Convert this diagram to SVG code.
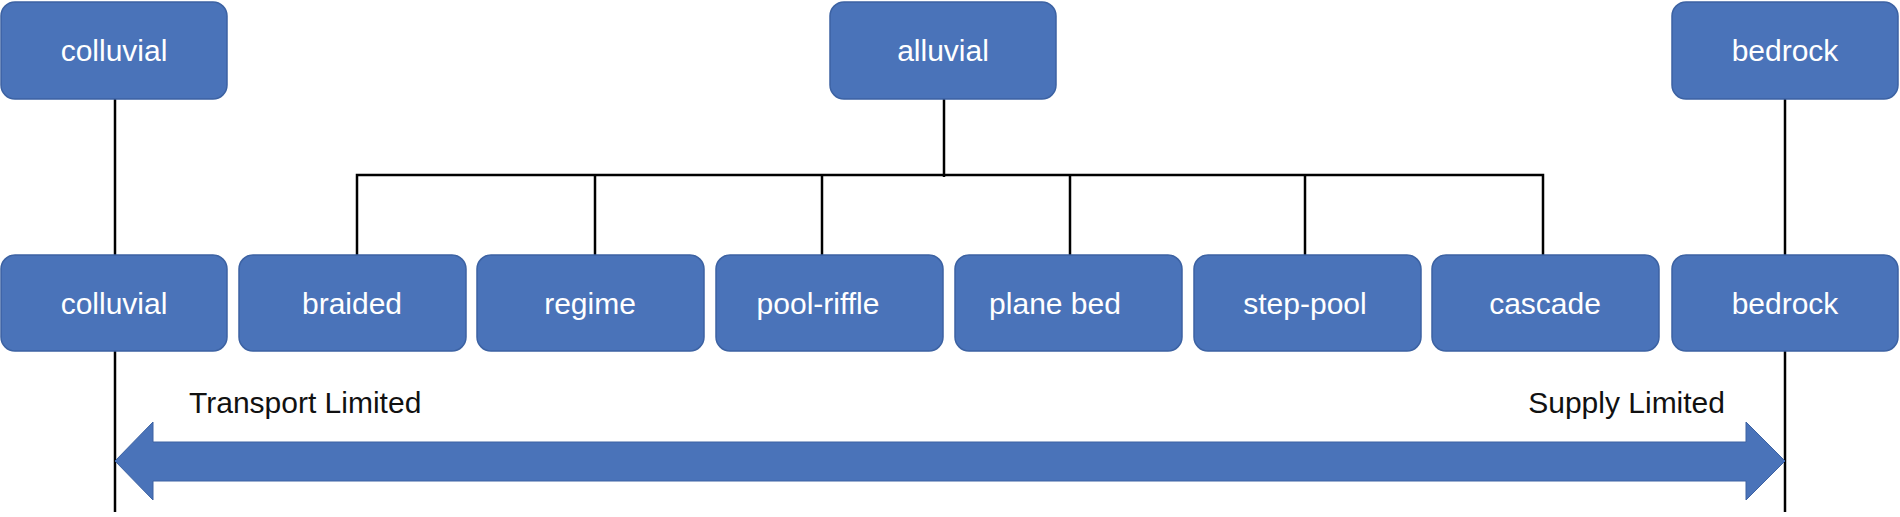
<svg xmlns="http://www.w3.org/2000/svg" width="1900" height="517" viewBox="0 0 1900 517">
<style>
.box{fill:#4a73b9;stroke:#3c62a3;stroke-width:1.5}
.bt{font-family:"Liberation Sans",Arial,sans-serif;font-size:30px;fill:#fff;text-anchor:middle}
.lb{font-family:"Liberation Sans",Arial,sans-serif;font-size:30px;fill:#111}
.ln{stroke:#000;stroke-width:2.5;fill:none}
</style>
<rect width="1900" height="517" fill="#fff"/>
<g id="connectors">
<line class="ln" x1="115" y1="99" x2="115" y2="255"/>
<line class="ln" x1="115" y1="351" x2="115" y2="512"/>
<line class="ln" x1="1785" y1="99" x2="1785" y2="255"/>
<line class="ln" x1="1785" y1="351" x2="1785" y2="512"/>
<line class="ln" x1="944" y1="99" x2="944" y2="177"/>
<polyline class="ln" points="357,255 357,175 1543,175 1543,255"/>
<line class="ln" x1="595" y1="175" x2="595" y2="255"/>
<line class="ln" x1="822" y1="175" x2="822" y2="255"/>
<line class="ln" x1="1070" y1="175" x2="1070" y2="255"/>
<line class="ln" x1="1305" y1="175" x2="1305" y2="255"/>
</g>
<g id="arrow">
<polygon points="115,461 153,422 153,442 1746,442 1746,422 1785,461 1746,500 1746,481 153,481 153,500" fill="#4a73b9" stroke="#3c62a3" stroke-width="1"/>
</g>
<g id="n-colluvial-top"><rect class="box" x="1" y="2" width="226" height="97" rx="14"/><text class="bt" x="114" y="61">colluvial</text></g>
<g id="n-alluvial"><rect class="box" x="830" y="2" width="226" height="97" rx="14"/><text class="bt" x="943" y="61">alluvial</text></g>
<g id="n-bedrock-top"><rect class="box" x="1672" y="2" width="226" height="97" rx="14"/><text class="bt" x="1785" y="61">bedrock</text></g>
<g id="n-colluvial"><rect class="box" x="1" y="255" width="226" height="96" rx="14"/><text class="bt" x="114" y="314">colluvial</text></g>
<g id="n-braided"><rect class="box" x="239" y="255" width="227" height="96" rx="14"/><text class="bt" x="352" y="314">braided</text></g>
<g id="n-regime"><rect class="box" x="477" y="255" width="227" height="96" rx="14"/><text class="bt" x="590" y="314">regime</text></g>
<g id="n-pool-riffle"><rect class="box" x="716" y="255" width="227" height="96" rx="14"/><text class="bt" x="818" y="314">pool-riffle</text></g>
<g id="n-plane-bed"><rect class="box" x="955" y="255" width="227" height="96" rx="14"/><text class="bt" x="1055" y="314">plane bed</text></g>
<g id="n-step-pool"><rect class="box" x="1194" y="255" width="227" height="96" rx="14"/><text class="bt" x="1305" y="314">step-pool</text></g>
<g id="n-cascade"><rect class="box" x="1432" y="255" width="227" height="96" rx="14"/><text class="bt" x="1545" y="314">cascade</text></g>
<g id="n-bedrock"><rect class="box" x="1672" y="255" width="226" height="96" rx="14"/><text class="bt" x="1785" y="314">bedrock</text></g>
<text class="lb" x="189" y="413">Transport Limited</text>
<text class="lb" x="1725" y="413" text-anchor="end">Supply Limited</text>
</svg>
